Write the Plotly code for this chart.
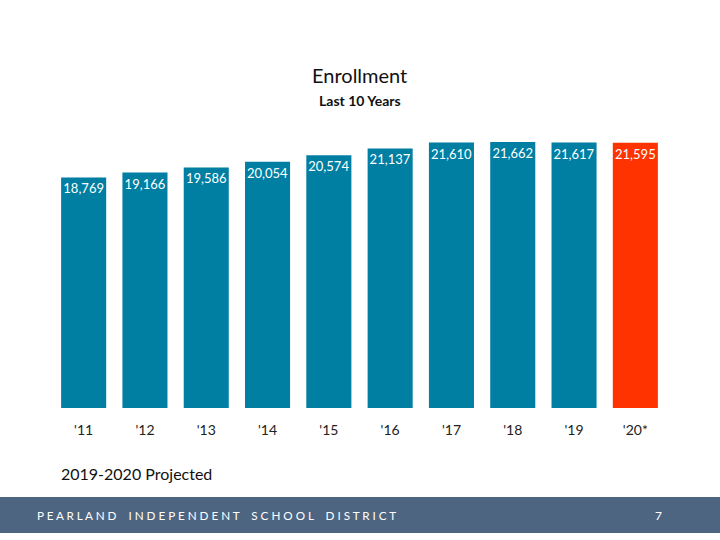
import plotly.graph_objects as go

years = ["'11", "'12", "'13", "'14", "'15", "'16", "'17", "'18", "'19", "'20*"]
enrollment = [18769, 19166, 19586, 20054, 20574, 21137, 21610, 21662, 21617, 21595]
labels = ["18,769", "19,166", "19,586", "20,054", "20,574", "21,137", "21,610", "21,662", "21,617", "21,595"]
colors = ["#007FA3"] * 9 + ["#FF3300"]

W, H = 720, 540
L, R, T, B = 53, 54, 120, 132
PW, PH = W - L - R, H - T - B


def px(x):
    return (x - L) / PW


def py(y):
    return (H - B - y) / PH


FONT = "Lato"

fig = go.Figure(go.Bar(
    x=years, y=enrollment, text=labels,
    marker=dict(color=colors, line=dict(width=0)),
    textposition="inside", insidetextanchor="end", textangle=0,
    textfont=dict(family=FONT, size=13, color="white"),
    constraintext="none",
    cliponaxis=False,
    hoverinfo="skip",
))

fig.update_layout(
    width=W, height=H,
    margin=dict(l=L, r=R, t=T, b=B),
    paper_bgcolor="white", plot_bgcolor="white",
    bargap=0.265,
    showlegend=False,
    font=dict(family=FONT),
    xaxis=dict(showline=False, showgrid=False, zeroline=False, ticks="",
               tickfont=dict(family=FONT, size=14, color="#222222"),
               ticklabelstandoff=12),
    yaxis=dict(range=[0, 23450], visible=False, showgrid=False, zeroline=False),
    shapes=[dict(type="rect", xref="paper", yref="paper",
                 x0=px(0), x1=px(720), y0=py(533), y1=py(497),
                 fillcolor="#4E6581", line=dict(width=0), layer="above")],
    annotations=[
        dict(text="Enrollment", x=px(360), y=py(75), xref="paper", yref="paper",
             showarrow=False, font=dict(family=FONT, size=20, color="#111111"),
             xanchor="center", yanchor="middle"),
        dict(text="<b>Last 10 Years</b>", x=px(360), y=py(100), xref="paper", yref="paper",
             showarrow=False, font=dict(family=FONT, size=14, color="#111111"),
             xanchor="center", yanchor="middle"),
        dict(text="2019-2020 Projected", x=px(59), y=py(473), xref="paper", yref="paper",
             showarrow=False, font=dict(family=FONT, size=16, color="#111111"),
             xanchor="left", yanchor="middle"),
        dict(text=" ".join("PEARLAND INDEPENDENT SCHOOL DISTRICT").replace("   ", "    "),
             x=px(35), y=py(515), xref="paper", yref="paper",
             showarrow=False, font=dict(family=FONT, size=11.7, color="white"),
             xanchor="left", yanchor="middle"),
        dict(text="7", x=px(658), y=py(515), xref="paper", yref="paper",
             showarrow=False, font=dict(family=FONT, size=12, color="white"),
             xanchor="center", yanchor="middle"),
    ],
)

fig.write_html("out.html", config={"displayModeBar": False},
               post_script="document.body.style.margin='0';document.body.style.overflow='hidden';")
